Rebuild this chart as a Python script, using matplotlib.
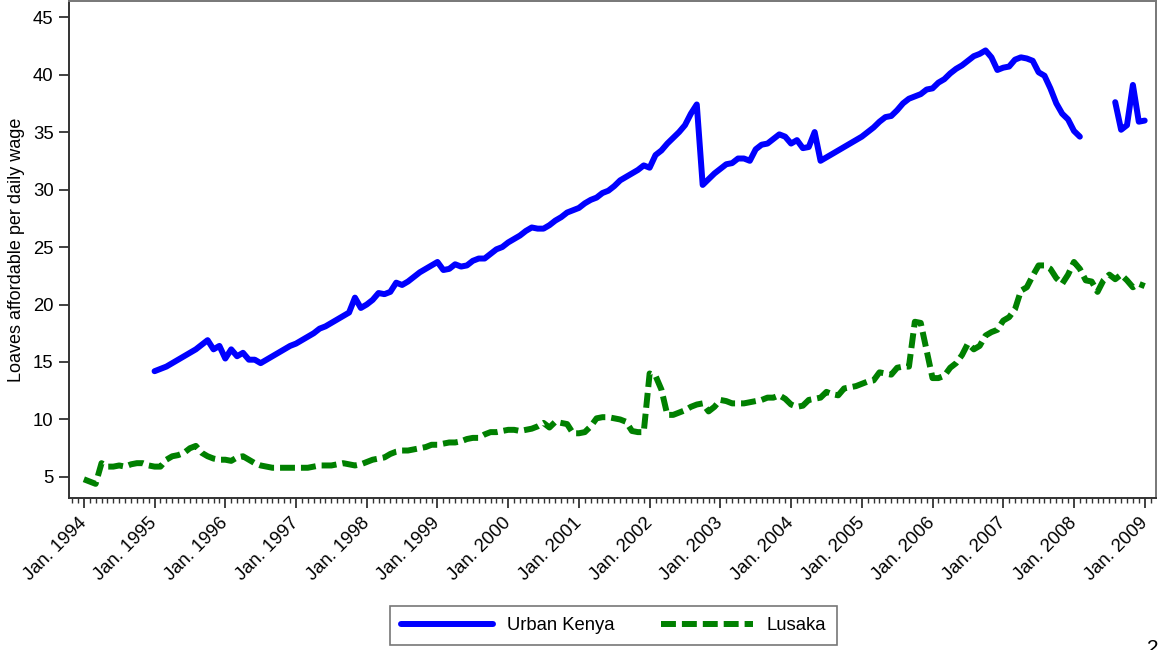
import numpy as np
import matplotlib
matplotlib.use("Agg")
import matplotlib.pyplot as plt
from matplotlib.ticker import MultipleLocator

plt.rcParams['font.family'] = ['Liberation Sans', 'DejaVu Sans']

# monthly series, Urban Kenya starts Jan. 1995, Lusaka starts Jan. 1994
kenya_start = 1995.0
kenya = [
    14.2, 14.4, 14.6, 14.9, 15.2, 15.5, 15.8, 16.1, 16.5, 16.9,
    16.1, 16.4, 15.3, 16.1, 15.5, 15.8, 15.2, 15.2, 14.9, 15.2,
    15.5, 15.8, 16.1, 16.4, 16.6, 16.9, 17.2, 17.5, 17.9, 18.1,
    18.4, 18.7, 19.0, 19.3, 20.6, 19.7, 20.0, 20.4, 21.0, 20.9,
    21.1, 21.9, 21.7, 22.0, 22.4, 22.8, 23.1, 23.4, 23.7, 23.0,
    23.1, 23.5, 23.3, 23.4, 23.8, 24.0, 24.0, 24.4, 24.8, 25.0,
    25.4, 25.7, 26.0, 26.4, 26.7, 26.6, 26.6, 26.9, 27.3, 27.6,
    28.0, 28.2, 28.4, 28.8, 29.1, 29.3, 29.7, 29.9, 30.3, 30.8,
    31.1, 31.4, 31.7, 32.1, 31.9, 33.0, 33.4, 34.0, 34.5, 35.0,
    35.6, 36.6, 37.4, 30.4, 30.9, 31.4, 31.8, 32.2, 32.3, 32.7,
    32.7, 32.5, 33.5, 33.9, 34.0, 34.4, 34.8, 34.6, 34.0, 34.3,
    33.6, 33.7, 35.0, 32.5, 32.8, 33.1, 33.4, 33.7, 34.0, 34.3,
    34.6, 35.0, 35.4, 35.9, 36.3, 36.4, 36.9, 37.5, 37.9, 38.1,
    38.3, 38.7, 38.8, 39.3, 39.6, 40.1, 40.5, 40.8, 41.2, 41.6,
    41.8, 42.1, 41.5, 40.4, 40.6, 40.7, 41.3, 41.5, 41.4, 41.2,
    40.2, 39.9, 38.8, 37.5, 36.6, 36.1, 35.1, 34.6, np.nan, np.nan,
    np.nan, np.nan, np.nan, 37.6, 35.2, 35.6, 39.1, 35.9, 36.0,
]

lusaka_start = 1994.0
lusaka = [
    4.8, 4.6, 4.4, 6.2, 5.9, 5.9, 6.0, 5.9, 6.1, 6.2,
    6.2, 6.0, 5.9, 5.9, 6.5, 6.8, 6.9, 7.1, 7.5, 7.7,
    7.1, 6.8, 6.6, 6.5, 6.5, 6.4, 6.7, 6.8, 6.5, 6.2,
    6.0, 5.9, 5.8, 5.8, 5.8, 5.8, 5.8, 5.8, 5.8, 5.9,
    6.0, 6.0, 6.0, 6.1, 6.2, 6.1, 6.0, 6.1, 6.3, 6.5,
    6.6, 6.7, 7.0, 7.2, 7.3, 7.3, 7.4, 7.5, 7.6, 7.8,
    7.8, 7.9, 8.0, 8.0, 8.1, 8.3, 8.4, 8.4, 8.7, 8.9,
    8.9, 9.0, 9.1, 9.1, 9.0, 9.1, 9.2, 9.4, 9.7, 9.3,
    9.8, 9.7, 9.6, 8.8, 8.8, 8.9, 9.4, 10.1, 10.2, 10.2,
    10.1, 10.0, 9.8, 9.0, 8.9, 8.9, 14.0, 13.8, 12.6, 10.4,
    10.4, 10.6, 10.8, 11.1, 11.3, 11.4, 10.7, 11.1, 11.7, 11.6,
    11.4, 11.4, 11.4, 11.5, 11.6, 11.7, 11.9, 11.9, 12.1, 11.8,
    11.3, 11.1, 11.2, 11.7, 11.8, 11.9, 12.4, 12.2, 12.1, 12.7,
    12.8, 12.9, 13.1, 13.3, 13.4, 14.1, 14.0, 13.9, 14.5, 14.6,
    14.6, 18.5, 18.4, 16.0, 13.6, 13.6, 13.8, 14.5, 14.9, 15.6,
    16.6, 16.1, 16.4, 17.3, 17.6, 17.8, 18.6, 18.9, 19.6, 21.2,
    21.5, 22.5, 23.4, 23.4, 23.1, 22.3, 21.8, 22.6, 23.7, 23.1,
    22.1, 22.0, 21.1, 22.1, 22.6, 22.2, 22.6, 22.1, 21.5, 21.8, 21.6,
]

years = list(range(1994, 2010))
year_labels = ['Jan. %d' % y for y in years]
yticks = [5, 10, 15, 20, 25, 30, 35, 40, 45]

kenya_x = kenya_start + np.arange(len(kenya)) / 12.0
lusaka_x = lusaka_start + np.arange(len(lusaka)) / 12.0

fig = plt.figure(figsize=(11.59, 6.5), dpi=100)
ax = fig.add_axes([69/1159, 1 - 498/650, (1156 - 69)/1159, (498 - 1)/650])

ax.plot(kenya_x, kenya, color='#0000ff', lw=4.3, solid_joinstyle='round',
        solid_capstyle='round', label='Urban Kenya')
ax.plot(lusaka_x, lusaka, color='#008000', lw=4.3, linestyle=(0, (2.5, 1.0)),
        dash_capstyle='butt', label='Lusaka')

ax.set_xlim(1993.79, 2009.16)
ax.set_ylim(3.17, 46.4)

ax.set_xticks(years)
ax.set_xticklabels(year_labels, rotation=45, ha='right', va='center',
                   rotation_mode='anchor')
ax.xaxis.set_minor_locator(MultipleLocator(1/12))
ax.set_yticks(yticks)

ax.tick_params(axis='both', which='major', labelsize=13.3, width=1.3,
               color='#333333')
ax.tick_params(axis='x', which='major', length=7, pad=9)
ax.tick_params(axis='y', which='major', length=7, pad=4)
ax.tick_params(axis='x', which='minor', length=3.5, width=1.0, color='#333333')

for side in ['left', 'bottom', 'top', 'right']:
    ax.spines[side].set_color('#333333')
    ax.spines[side].set_linewidth(1.4)
ax.spines['top'].set_color('#777777')
ax.spines['right'].set_color('#777777')

ax.set_ylabel('Loaves affordable per daily wage', fontsize=13, labelpad=6)

leg = fig.legend(loc='center', bbox_to_anchor=(613.5/1159, 1 - 625.5/650),
                 ncol=2, fontsize=13.3, frameon=True, fancybox=False,
                 edgecolor='#555555', handlelength=5.0, handletextpad=0.75,
                 columnspacing=2.5, borderpad=0.6)
leg.get_frame().set_linewidth(1.2)

fig.text(1147/1159, 1 - 639/650, '2', ha='left', va='top', fontsize=15)

fig.savefig('out.png', dpi=100)
